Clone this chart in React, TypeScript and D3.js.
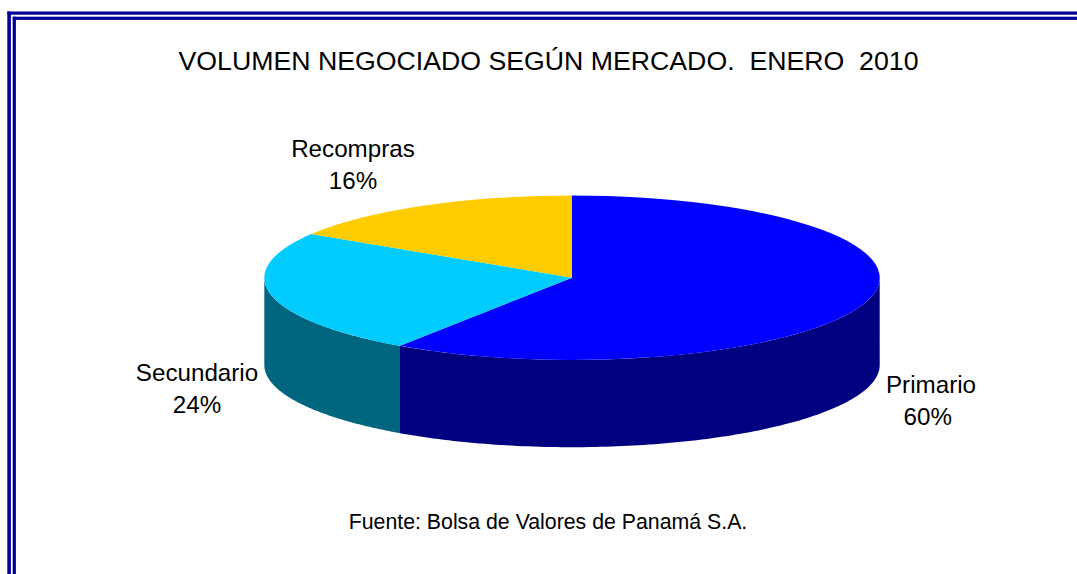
import React from "react";
import * as d3 from "d3";

const categories = ["Primario", "Secundario", "Recompras"];
const values = [59.44, 24.46, 16.1];
const percentLabels = ["60%", "24%", "16%"];
const topColors = ["#0000FF", "#00CCFF", "#FFCC00"];
const sideColors = ["#000080", "#006680", "#806600"];
const labelX = [931, 197, 353];
const percentX = [927.8, 197, 353];
const labelY = [393, 381, 157];

const W = 1077, H = 574;
const cx = 572, cy = 277.7, rx = 307.7, ry = 82.2, depth = 87.3;

const pie = d3.pie<number>().sort(null).value((d) => d);
const arcs = pie(values);
const unitArc = d3.arc<any>().innerRadius(0).outerRadius(rx);

const px = (a: number) => cx + rx * Math.sin(a);
const py = (a: number) => cy - ry * Math.cos(a);
const side = d3.area<number>().x(px).y0(py).y1((a) => py(a) + depth);

export default function App() {
  return (
    <svg
      width={W}
      height={H}
      viewBox={`0 0 ${W} ${H}`}
      style={{ position: "fixed", left: 0, top: 0, background: "#fff" }}
      fontFamily="'Liberation Sans', Arial, sans-serif"
    >
      <g fill="#000099">
        <rect x={7.3} y={11.5} width={W - 7.3} height={3.2} />
        <rect x={7.3} y={11.5} width={3.6} height={H - 11.5} />
        <rect x={12.7} y={16.7} width={W - 12.7} height={3.2} />
        <rect x={12.7} y={16.7} width={3.2} height={H - 16.7} />
      </g>
      <text x={548.5} y={69.7} textAnchor="middle" fontSize={26.7} style={{ whiteSpace: "pre" }}>
        {"VOLUMEN NEGOCIADO SEGÚN MERCADO.  ENERO  2010"}
      </text>
      {arcs.map((d, i) => {
        const a0 = Math.max(d.startAngle, Math.PI / 2);
        const a1 = Math.min(d.endAngle, (3 * Math.PI) / 2);
        if (a1 <= a0) return null;
        const samples = d3.range(0, 121).map((k) => a0 + ((a1 - a0) * k) / 120);
        return <path key={i} d={side(samples) ?? ""} fill={sideColors[i]} />;
      })}
      <g transform={`translate(${cx},${cy}) scale(1,${ry / rx})`}>
        {arcs.map((d, i) => (
          <path key={i} d={unitArc(d) ?? ""} fill={topColors[i]} />
        ))}
      </g>
      {categories.map((c, i) => (
        <text key={c} textAnchor="middle" fontSize={24.2} fill="#000">
          <tspan x={labelX[i]} y={labelY[i]}>{c}</tspan>
          <tspan x={percentX[i]} y={labelY[i] + 32}>{percentLabels[i]}</tspan>
        </text>
      ))}
      <text x={548} y={529} textAnchor="middle" fontSize={21.3}>
        Fuente: Bolsa de Valores de Panamá S.A.
      </text>
    </svg>
  );
}
